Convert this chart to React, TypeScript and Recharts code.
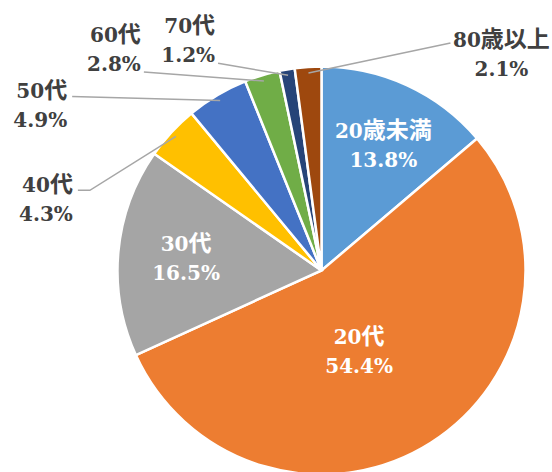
import { PieChart, Pie, Cell } from "recharts"

// age groups, clockwise from 12 o'clock
const CATEGORIES = ["20歳未満", "20代", "30代", "40代", "50代", "60代", "70代", "80歳以上"]
const SHARES = [13.8, 54.4, 16.5, 4.3, 4.9, 2.8, 1.2, 2.1]
const COLORS = ["#5B9BD5", "#ED7D31", "#A5A5A5", "#FFC000", "#4472C4", "#70AD47", "#264478", "#9E480E"]

const data = CATEGORIES.map((name, i) => ({ name, value: SHARES[i] }))

const LATIN = "'DejaVu Serif', serif"
const CJK = "'Noto Sans CJK JP', sans-serif"
const RAD = Math.PI / 180
const GAP = 29

// label placement: inside labels sit at radius r (+ nudge), outside ones get a leader line
type Layout =
  | { inside: true; r: number; dx: number; dy: number }
  | { inside: false; lx: number; ly: number; tail: number; anchor: "start" | "middle" | "end"; tx: number; ty: number }

const LAYOUT: Layout[] = [
  { inside: true, r: 140, dx: 3, dy: 2 },
  { inside: true, r: 100, dx: -16, dy: -4 },
  { inside: true, r: 136, dx: 0, dy: 0 },
  { inside: false, lx: -86, ly: 54, tail: 12, anchor: "end", tx: -5, ty: 2 },
  { inside: false, lx: -148, ly: -4, tail: 0, anchor: "end", tx: -5, ty: 2 },
  { inside: false, lx: -120, ly: -9, tail: 0, anchor: "end", tx: -3, ty: -30 },
  { inside: false, lx: -70, ly: -12, tail: 0, anchor: "end", tx: -3, ty: -30 },
  { inside: false, lx: 142, ly: -30, tail: 0, anchor: "middle", tx: 51, ty: 4 },
]

// mix a serif for digits with a larger CJK face, like the original
const runs = (s: string) => {
  const parts = s.match(/[\u3000-\u9fff]+|[^\u3000-\u9fff]+/g) || []
  return parts.map((p, i) =>
    /[\u3000-\u9fff]/.test(p) ? (
      <tspan key={i} fontFamily={CJK} fontSize={23}>{p}</tspan>
    ) : (
      <tspan key={i} fontFamily={LATIN} fontSize={20}>{p}</tspan>
    )
  )
}

const renderLabel = (props: any) => {
  const { cx, cy, midAngle, outerRadius, index } = props
  const lay = LAYOUT[index]
  const name = CATEGORIES[index]
  const pct = SHARES[index].toFixed(1) + "%"
  const cos = Math.cos(-midAngle * RAD)
  const sin = Math.sin(-midAngle * RAD)

  if (lay.inside) {
    const x = cx + lay.r * cos + lay.dx
    const y = cy + lay.r * sin + lay.dy
    return (
      <g>
        <text x={x} y={y - 7} textAnchor="middle" fill="#fff" fontWeight="bold">
          {runs(name)}
        </text>
        <text x={x} y={y + 22} textAnchor="middle" fill="#fff" fontWeight="bold">
          {runs(pct)}
        </text>
      </g>
    )
  }

  const ex = cx + (outerRadius - 6) * cos
  const ey = cy + (outerRadius - 6) * sin
  const bx = ex + lay.lx
  const by = ey + lay.ly
  const endX = bx - lay.tail
  const tx = endX + lay.tx
  const ty = by + lay.ty
  return (
    <g>
      <polyline points={`${ex},${ey} ${bx},${by} ${endX},${by}`} fill="none" stroke="#A6A6A6" strokeWidth={1.5} />
      <text x={tx} y={ty} textAnchor={lay.anchor} fill="#404040" fontWeight="bold">
        {runs(name)}
      </text>
      <text x={tx} y={ty + GAP} textAnchor={lay.anchor} fill="#404040" fontWeight="bold">
        {runs(pct)}
      </text>
    </g>
  )
}

export default function App() {
  return (
    <div style={{ position: "absolute", left: 0, top: 0, width: 552, height: 472, background: "#fff" }}>
      <PieChart width={552} height={472}>
        <Pie
          data={data}
          dataKey="value"
          cx={316.5}
          cy={265.5}
          outerRadius={204}
          startAngle={90}
          endAngle={-270}
          stroke="#fff"
          strokeWidth={2.5}
          label={renderLabel}
          labelLine={false}
          isAnimationActive={false}
        >
          {data.map((entry, i) => (
            <Cell key={entry.name} fill={COLORS[i]} />
          ))}
        </Pie>
      </PieChart>
    </div>
  )
}
